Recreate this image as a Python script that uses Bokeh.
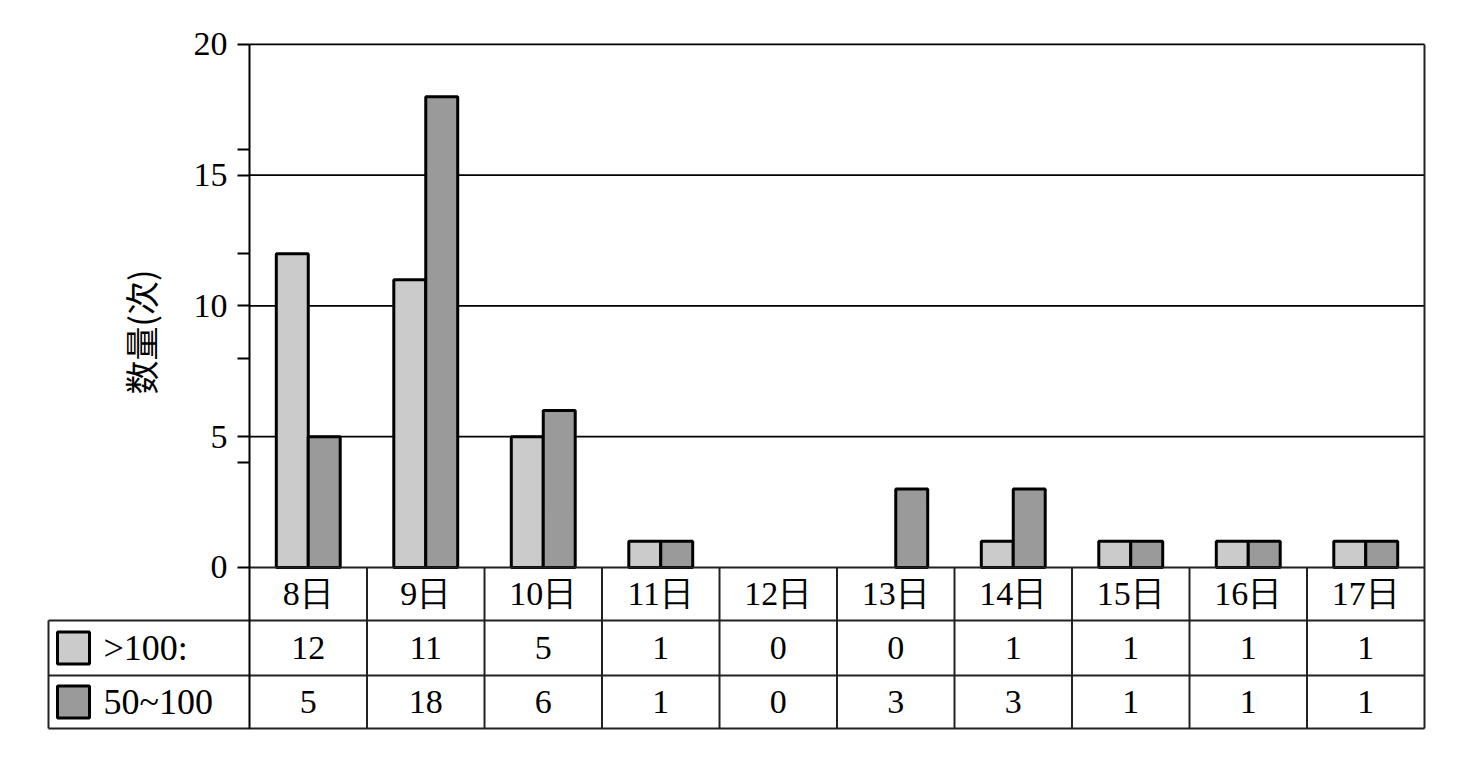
from math import pi
from bokeh.plotting import figure
from bokeh.models import Range1d, LinearAxis, FixedTicker, Label
from bokeh.core.properties import value
from bokeh.embed import file_html
from bokeh.resources import INLINE

# ---- data ----
days = ["8日", "9日", "10日", "11日", "12日", "13日", "14日", "15日", "16日", "17日"]
gt100 = [12, 11, 5, 1, 0, 0, 1, 1, 1, 1]
mid = [5, 18, 6, 1, 0, 3, 3, 1, 1, 1]
series_names = [">100:", "50~100"]
series_colors = ["#cbcbcb", "#9a9a9a"]
y_ticks = [0, 5, 10, 15, 20]
y_minor = [4, 8, 12, 16]
y_label = "数量(次)"

SERIF = value("Liberation Serif")
n = len(days)

# table layout (data units below zero)
row_lines = [0, -2.027, -4.13, -6.157]
leg_left = -1.7106

p = figure(width=1456, height=748, output_backend="svg", toolbar_location=None,
           x_range=Range1d(-1.7277, 10.017), y_range=Range1d(-6.233, 20.8),
           min_border_left=46, min_border_right=30, min_border_top=23, min_border_bottom=18,
           outline_line_color=None)
p.xaxis.visible = False
p.yaxis.visible = False
p.xgrid.visible = False
p.ygrid.visible = False

# y axis at x=0 (left edge of plot area)
ax = LinearAxis(fixed_location=0, ticker=FixedTicker(ticks=y_ticks, minor_ticks=y_minor),
                bounds=(row_lines[-1], y_ticks[-1]))
ax.axis_line_width = 2
ax.axis_line_color = "black"
ax.major_tick_out = 12
ax.major_tick_in = 0
ax.minor_tick_out = 12
ax.minor_tick_in = 0
ax.major_tick_line_width = 2
ax.minor_tick_line_width = 2
ax.major_label_text_font = "Liberation Serif"
ax.major_label_text_font_size = "34px"
ax.major_label_text_color = "black"
ax.major_label_standoff = 10
p.add_layout(ax, "left")

# gridlines (from tick values) inside plot area
grid_y = y_ticks[1:]
p.segment(x0=[0] * len(grid_y), x1=[n] * len(grid_y), y0=grid_y, y1=grid_y,
          line_color="black", line_width=1.8)

# bars
bw = 0.272
off = 0.136
for vals, color, sgn in [(gt100, series_colors[0], -1), (mid, series_colors[1], 1)]:
    xs = [i + 0.5 + sgn * off for i, v in enumerate(vals) if v > 0]
    tops = [v for v in vals if v > 0]
    p.vbar(x=xs, top=tops, bottom=0, width=bw, fill_color=color,
           line_color="black", line_width=3)

# table lines
hx0 = [0, leg_left, leg_left, leg_left]
p.segment(x0=hx0, x1=[n] * 4, y0=row_lines, y1=row_lines,
          line_color="#222222", line_width=2)
cols = list(range(1, n))
p.segment(x0=cols, x1=cols, y0=[0] * len(cols), y1=[row_lines[-1]] * len(cols),
          line_color="#222222", line_width=2)
p.segment(x0=[n, leg_left], x1=[n, leg_left], y0=[y_ticks[-1], row_lines[1]],
          y1=[row_lines[-1], row_lines[-1]], line_color="#222222", line_width=2)

# table text
centers = [i + 0.5 for i in range(n)]
r0 = (row_lines[0] + row_lines[1]) / 2
r1 = (row_lines[1] + row_lines[2]) / 2
r2 = (row_lines[2] + row_lines[3]) / 2
p.text(x=centers, y=[r0] * n, text=days, text_align="center", text_baseline="middle",
       text_font=SERIF, text_font_size="34px", text_color="black")
p.text(x=centers, y=[r1] * n, text=[str(v) for v in gt100], text_align="center",
       text_baseline="middle", text_font=SERIF, text_font_size="34px", text_color="black")
p.text(x=centers, y=[r2] * n, text=[str(v) for v in mid], text_align="center",
       text_baseline="middle", text_font=SERIF, text_font_size="34px", text_color="black")

# legend swatches and names
sw_x = -1.498
p.scatter(x=[sw_x, sw_x], y=[r1, r2], marker="square", size=32,
          fill_color=series_colors, line_color="black", line_width=3)
p.text(x=[-1.2426, -1.2426], y=[r1, r2], text=series_names, text_align="left",
       text_baseline="middle", text_font=SERIF, text_font_size="36px", text_color="black")

# y axis label
p.add_layout(Label(x=-0.93, y=9.0, text=y_label, angle=pi / 2, text_align="center",
                   text_baseline="middle", text_font="Noto Sans CJK SC",
                   text_font_size="34px", text_color="black"))

open("out.html", "w").write(file_html(p, INLINE))
